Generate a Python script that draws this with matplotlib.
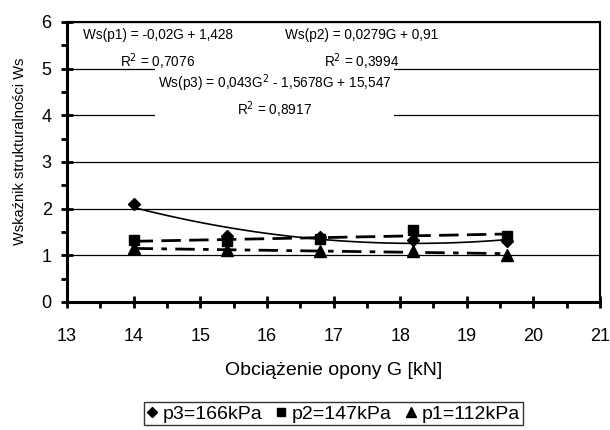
import numpy as np
import matplotlib.pyplot as plt
from matplotlib.ticker import MultipleLocator

plt.rcParams['font.family'] = ['Liberation Sans', 'DejaVu Sans']

# obciazenie opony G [kN]
G = [14.0, 15.4, 16.8, 18.2, 19.6]
ws_p3 = [2.1, 1.42, 1.4, 1.33, 1.3]
ws_p2 = [1.33, 1.3, 1.36, 1.55, 1.42]
ws_p1 = [1.15, 1.12, 1.1, 1.1, 1.0]

# wspolczynniki linii trendu (z rownan na wykresie)
coef_p3 = [0.043, -1.5678, 15.547]
coef_p2 = [0.0279, 0.91]
coef_p1 = [-0.02, 1.428]

fig = plt.figure(figsize=(6.1, 4.3), dpi=100)
ax = fig.add_axes([67/610, 1 - 302/430, 533/610, 280/430])

gx = np.linspace(min(G), max(G), 100)
ax.plot(gx, np.polyval(coef_p3, gx), color='black', lw=1.2, zorder=3)
ax.plot(gx, np.polyval(coef_p2, gx), color='black', lw=2, dashes=(7, 3), zorder=3)
ax.plot(gx, np.polyval(coef_p1, gx), color='black', lw=2, dashes=(7, 3, 2, 3), zorder=3)

ax.plot(G, ws_p3, 'D', color='black', ms=6.5, ls='none', label='p3=166kPa', zorder=4)
ax.plot(G, ws_p2, 's', color='black', ms=7.5, ls='none', label='p2=147kPa', zorder=4)
ax.plot(G, ws_p1, '^', color='black', ms=8.5, ls='none', label='p1=112kPa', zorder=4)

ax.set_xlim(13, 21)
ax.set_ylim(0, 6)
ax.xaxis.set_major_locator(MultipleLocator(1))
ax.xaxis.set_minor_locator(MultipleLocator(0.5))
ax.yaxis.set_major_locator(MultipleLocator(1))
ax.yaxis.set_minor_locator(MultipleLocator(0.5))
ax.grid(True, which='major', axis='y', color='black', lw=0.9)
ax.tick_params(axis='y', which='major', direction='inout', length=8, width=2, labelsize=13, pad=7)
ax.tick_params(axis='y', which='minor', direction='out', length=4, width=2)
ax.tick_params(axis='x', which='major', direction='inout', length=8, width=2, labelsize=13, pad=15)
ax.tick_params(axis='x', which='minor', direction='out', length=4, width=2)
for s in ['left', 'bottom']:
    ax.spines[s].set_linewidth(2.2)
for s in ['top', 'right']:
    ax.spines[s].set_linewidth(1.5)

ax.set_xlabel('Obciążenie opony G [kN]', fontsize=14, labelpad=12)
ax.set_ylabel('Wskaźnik strukturalności Ws', fontsize=10.5)
ax.yaxis.set_label_coords(-0.075, 0.5375)

eq_fs = 9.8
ax.text(14.36, 5.72, 'Ws(p1) = -0,02G + 1,428', fontsize=eq_fs, ha='center', va='center', zorder=5)
ax.text(14.36, 5.16, 'R$^2$ = 0,7076', fontsize=eq_fs, ha='center', va='center', zorder=5)
ax.text(17.42, 5.72, 'Ws(p2) = 0,0279G + 0,91', fontsize=eq_fs, ha='center', va='center', zorder=5)
ax.text(17.42, 5.16, 'R$^2$ = 0,3994', fontsize=eq_fs, ha='center', va='center', zorder=5)
ax.text(16.12, 4.42, 'Ws(p3) = 0,043G$^2$ - 1,5678G + 15,547\nR$^2$ = 0,8917', fontsize=eq_fs,
        ha='center', va='center', linespacing=1.35, zorder=5,
        bbox=dict(facecolor='white', edgecolor='none', pad=2))

fig.legend(loc='upper center', bbox_to_anchor=(333.5/610, 1 - 402/430), ncol=3, fontsize=14,
           frameon=True, fancybox=False, edgecolor='black', handlelength=0.5,
           handletextpad=0.3, columnspacing=0.75, borderpad=0.15, borderaxespad=0,
           markerscale=0.8)

fig.savefig('out.png', dpi=100)
